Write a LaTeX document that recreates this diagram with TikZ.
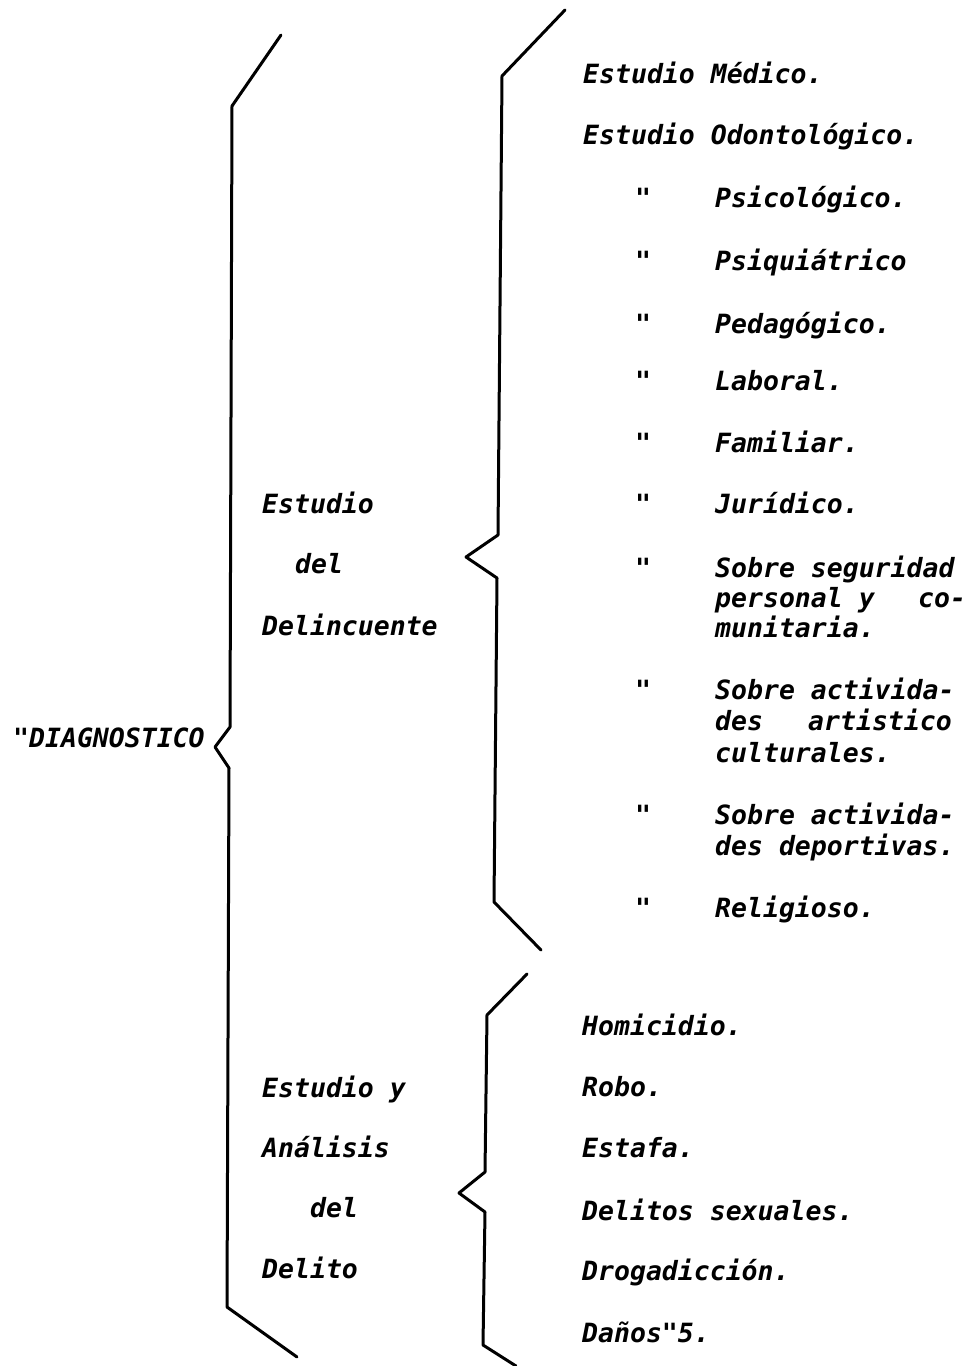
\documentclass[tikz,border=0pt]{standalone}
\usepackage{fontspec}
\newfontfamily\tw{DejaVu Sans Mono}
\begin{document}
\begin{tikzpicture}[x=1pt,y=-1pt,
  txt/.style={anchor=base west, inner sep=0pt, font=\tw\bfseries\itshape\fontsize{26.5}{31}\selectfont},
  brc/.style={line width=3pt, line join=round, line cap=round}]
\useasboundingbox (0,0) rectangle (969,1366);
% braces
\coordinate (a1) at (281,35); \coordinate (a2) at (232,106); \coordinate (a3) at (230,727);
\coordinate (a4) at (215,747); \coordinate (a5) at (229,768); \coordinate (a6) at (227,1307);
\coordinate (a7) at (297,1357);
\draw[brc] (a1) -- (a2) -- (a3) -- (a4) -- (a5) -- (a6) -- (a7);
\coordinate (b1) at (565,10); \coordinate (b2) at (502,76); \coordinate (b3) at (498,535);
\coordinate (b4) at (466,557); \coordinate (b5) at (497,578); \coordinate (b6) at (494,902);
\coordinate (b7) at (541,950);
\draw[brc] (b1) -- (b2) -- (b3) -- (b4) -- (b5) -- (b6) -- (b7);
\coordinate (c1) at (527,974); \coordinate (c2) at (487,1015); \coordinate (c3) at (485,1172);
\coordinate (c4) at (459,1193); \coordinate (c5) at (485,1212); \coordinate (c6) at (483,1345);
\coordinate (c7) at (516,1366);
\draw[brc] (c1) -- (c2) -- (c3) -- (c4) -- (c5) -- (c6) -- (c7);
% left
\node[txt] (diag) at (13,747) {"DIAGNOSTICO};
% middle
\node[txt] (m1) at (262,513) {Estudio};
\node[txt] (m2) at (295,573) {del};
\node[txt] (m3) at (262,635) {Delincuente};
\node[txt] (n1) at (262,1097) {Estudio y};
\node[txt] (n2) at (262,1157) {Análisis};
\node[txt] (n3) at (310,1217) {del};
\node[txt] (n4) at (262,1278) {Delito};
% right column
\node[txt] (r1) at (583,83) {Estudio Médico.};
\node[txt] (r2) at (583,144) {Estudio Odontológico.};
\foreach \y [count=\i] in {207,270,333,390,452,513,577,699,824,917}
  \node[txt] (q\i) at (635,\y) {"};
\node[txt] (w1) at (715,207) {Psicológico.};
\node[txt] (w2) at (715,270) {Psiquiátrico};
\node[txt] (w3) at (715,333) {Pedagógico.};
\node[txt] (w4) at (715,390) {Laboral.};
\node[txt] (w5) at (715,452) {Familiar.};
\node[txt] (w6) at (715,513) {Jurídico.};
\node[txt] (w7) at (715,577) {Sobre seguridad};
\node[txt] (w7b) at (715,607) {personal y};
\node[txt] (w7c) at (918,607) {co-};
\node[txt] (w7d) at (715,637) {munitaria.};
\node[txt] (w8) at (715,699) {Sobre activida-};
\node[txt] (w8b) at (715,730) {des};
\node[txt] (w8c) at (808,730) {artistico};
\node[txt] (w8d) at (715,762) {culturales.};
\node[txt] (w9) at (715,824) {Sobre activida-};
\node[txt] (w9b) at (715,855) {des deportivas.};
\node[txt] (w10) at (715,917) {Religioso.};
% bottom right
\node[txt] (d1) at (582,1035) {Homicidio.};
\node[txt] (d2) at (582,1096) {Robo.};
\node[txt] (d3) at (582,1157) {Estafa.};
\node[txt] (d4) at (582,1220) {Delitos sexuales.};
\node[txt] (d5) at (582,1280) {Drogadicción.};
\node[txt] (d6) at (582,1342) {Daños"5.};
\end{tikzpicture}
\end{document}
